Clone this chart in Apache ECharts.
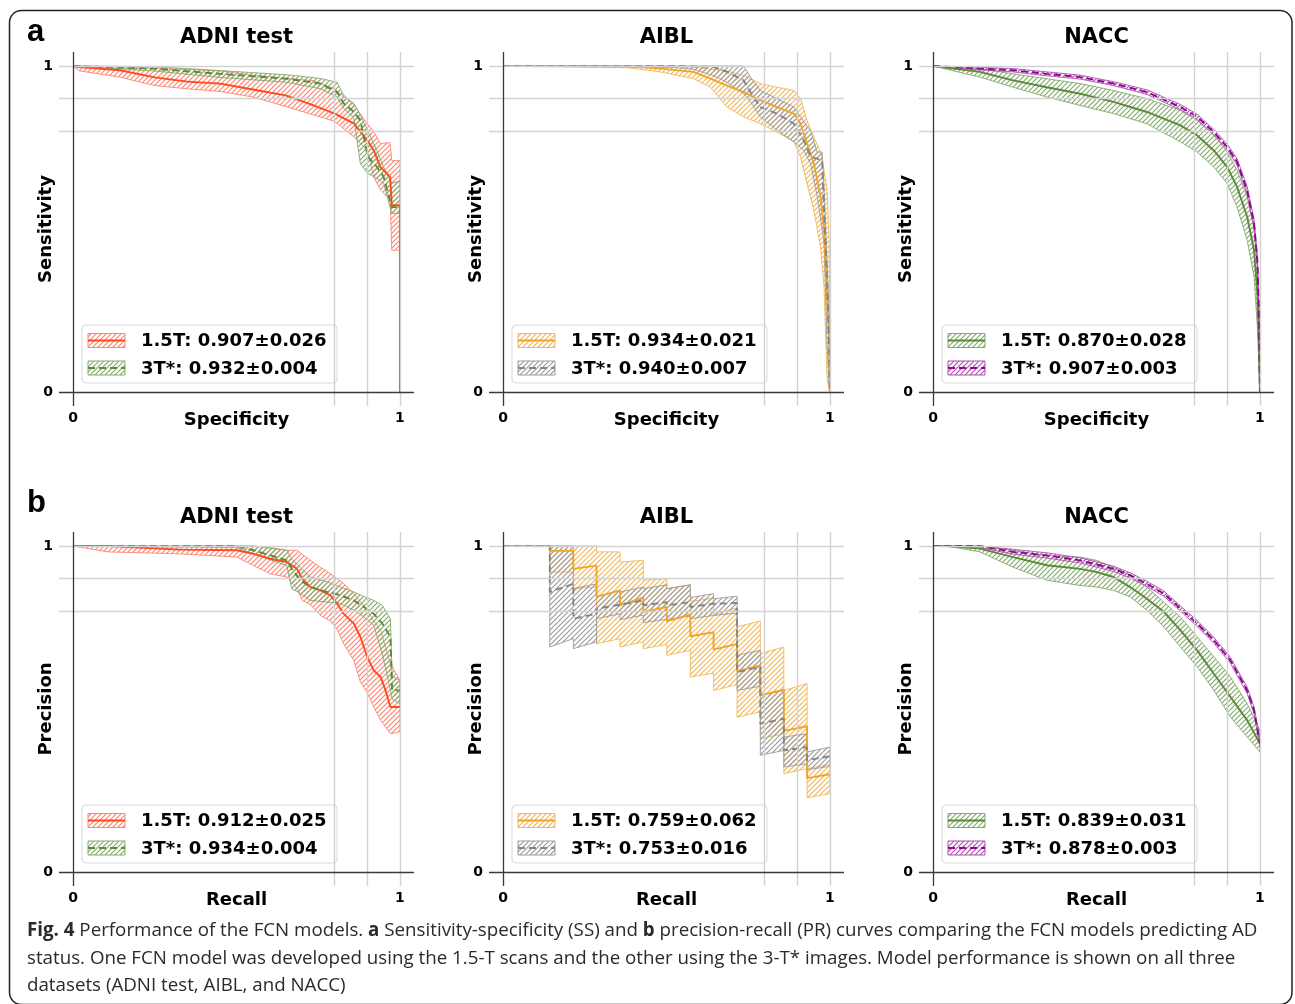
<!DOCTYPE html>
<html>
<head>
<meta charset="utf-8">
<title>FCN models - SS and PR curves</title>
<script src="https://cdn.jsdelivr.net/npm/echarts@6.0.0/dist/echarts.min.js"></script>
<style>
  html, body { margin: 0; padding: 0; background: #fff; }
  #chart { width: 1295px; height: 1004px; }
</style>
</head>
<body>
<div id="chart"></div>
<script>
// every point is [x, y, lower bound, upper bound]

// a: sensitivity vs specificity
var adniSS15 = [[0,1,1,1],[0.02,0.997,0.985,1],[0.143,0.987,0.966,0.997],[0.25,0.965,0.94,0.992],[0.35,0.952,0.93,0.99],
  [0.45,0.946,0.922,0.985],[0.55,0.928,0.905,0.972],[0.65,0.91,0.876,0.962],[0.736,0.879,0.85,0.955],[0.8,0.854,0.83,0.93],
  [0.86,0.823,0.782,0.88],[0.9,0.772,0.741,0.823],[0.92,0.741,0.66,0.8],[0.94,0.69,0.62,0.762],[0.97,0.66,0.59,0.765],
  [0.975,0.573,0.435,0.71],[1,0.573,0.435,0.71],[1,0,0,0]];
var adniSS3 = [[0,1,1,1],[0.245,0.992,0.985,0.998],[0.45,0.976,0.965,0.986],[0.655,0.961,0.95,0.973],[0.757,0.946,0.93,0.962],
  [0.808,0.92,0.905,0.95],[0.828,0.885,0.87,0.91],[0.859,0.859,0.84,0.885],[0.879,0.833,0.7,0.85],[0.902,0.721,0.67,0.8],
  [0.93,0.69,0.655,0.74],[0.95,0.66,0.64,0.69],[0.975,0.567,0.548,0.64],[1,0.567,0.548,0.648],[1,0,0,0]];
var aiblSS15 = [[0,1,1,1],[0.38,1,0.995,1],[0.481,0.992,0.982,1],[0.583,0.982,0.961,0.997],[0.634,0.961,0.935,0.99],
  [0.685,0.94,0.874,0.985],[0.736,0.92,0.844,0.971],[0.787,0.895,0.823,0.946],[0.838,0.874,0.797,0.935],[0.89,0.854,0.767,0.925],
  [0.91,0.823,0.721,0.9],[0.93,0.762,0.639,0.833],[0.951,0.7,0.557,0.782],[0.971,0.6,0.445,0.736],[0.982,0.5,0.322,0.68],
  [0.991,0.302,0.046,0.624],[0.998,0.15,0,0.455],[1,0,0,0]];
var aiblSS3 = [[0,1,1,1],[0.532,1,0.995,1],[0.583,0.999,0.99,1],[0.644,0.997,0.97,1],[0.685,0.982,0.95,1],
  [0.736,0.956,0.915,1],[0.757,0.92,0.89,0.966],[0.787,0.874,0.844,0.925],[0.838,0.854,0.803,0.9],[0.89,0.823,0.767,0.874],
  [0.92,0.772,0.741,0.83],[0.941,0.721,0.7,0.8],[0.961,0.716,0.6,0.736],[0.976,0.711,0.5,0.736],[0.982,0.557,0.455,0.629],
  [0.991,0.353,0.148,0.404],[0.997,0.148,0.03,0.25],[1,0,0,0]];
var naccSS15 = [[0,1,1,1],[0.143,0.982,0.966,0.992],[0.245,0.956,0.935,0.976],[0.348,0.935,0.905,0.961],[0.45,0.915,0.879,0.946],
  [0.552,0.89,0.854,0.925],[0.654,0.859,0.823,0.9],[0.757,0.818,0.767,0.864],[0.808,0.787,0.736,0.833],[0.859,0.741,0.69,0.787],
  [0.9,0.69,0.639,0.736],[0.93,0.629,0.567,0.68],[0.961,0.537,0.465,0.598],[0.982,0.435,0.353,0.506],[0.992,0.302,0.2,0.394],
  [0.997,0.148,0.08,0.25],[1,0,0,0]];
var naccSS3 = [[0,1,1,1],[0.143,0.992,0.988,0.996],[0.245,0.987,0.982,0.992],[0.348,0.976,0.97,0.982],[0.45,0.966,0.96,0.972],
  [0.552,0.946,0.94,0.952],[0.654,0.92,0.913,0.927],[0.757,0.874,0.866,0.882],[0.808,0.844,0.836,0.852],[0.859,0.797,0.789,0.805],
  [0.9,0.751,0.742,0.76],[0.93,0.706,0.696,0.716],[0.961,0.618,0.606,0.63],[0.982,0.516,0.5,0.53],[0.992,0.404,0.385,0.42],
  [0.997,0.25,0.23,0.27],[1,0,0,0]];

// b: precision vs recall
var adniPR15 = [[0,1,1,1],[0.107,1,0.982,1],[0.327,0.989,0.976,1],[0.501,0.987,0.966,1],[0.552,0.976,0.94,1],
  [0.603,0.961,0.915,0.995],[0.654,0.951,0.905,0.987],[0.685,0.93,0.87,0.987],[0.701,0.9,0.833,0.975],[0.726,0.874,0.82,0.956],
  [0.757,0.864,0.787,0.935],[0.787,0.849,0.77,0.915],[0.808,0.823,0.745,0.9],[0.828,0.792,0.7,0.885],[0.859,0.762,0.649,0.854],
  [0.879,0.721,0.583,0.83],[0.9,0.66,0.55,0.803],[0.92,0.618,0.506,0.77],[0.941,0.598,0.465,0.741],[0.956,0.557,0.445,0.69],
  [0.971,0.506,0.424,0.639],[1,0.506,0.43,0.588]];
var adniPR3 = [[0,1,1,1],[0.5,1,0.995,1],[0.552,0.987,0.976,1],[0.654,0.956,0.94,0.987],[0.669,0.93,0.869,0.96],
  [0.695,0.895,0.855,0.935],[0.726,0.874,0.833,0.905],[0.777,0.859,0.828,0.89],[0.818,0.849,0.823,0.874],[0.859,0.833,0.803,0.859],
  [0.89,0.813,0.782,0.845],[0.92,0.792,0.756,0.833],[0.946,0.762,0.669,0.818],[0.971,0.721,0.557,0.776],[0.976,0.557,0.53,0.6],
  [1,0.557,0.516,0.588]];
var aiblPR15 = [[0,1,1,1],[0.143,1,1,1],
  [0.143,0.985,0.92,1],[0.215,0.985,0.92,1],
  [0.215,0.93,0.869,1],[0.286,0.94,0.874,1],
  [0.286,0.844,0.7,0.982],[0.358,0.864,0.716,0.982],
  [0.358,0.818,0.69,0.951],[0.429,0.842,0.706,0.956],
  [0.429,0.798,0.685,0.895],[0.501,0.813,0.698,0.9],
  [0.501,0.769,0.665,0.869],[0.573,0.79,0.68,0.881],
  [0.573,0.723,0.598,0.83],[0.644,0.736,0.61,0.84],
  [0.644,0.682,0.557,0.79],[0.716,0.7,0.575,0.81],
  [0.716,0.616,0.475,0.752],[0.787,0.634,0.491,0.77],
  [0.787,0.542,0.409,0.67],[0.859,0.559,0.424,0.69],
  [0.859,0.433,0.302,0.557],[0.93,0.447,0.317,0.578],
  [0.93,0.288,0.228,0.317],[1,0.3,0.24,0.33]];
var aiblPR3 = [[0,1,1,1],[0.143,1,1,1],
  [0.143,0.859,0.69,1],[0.215,0.884,0.716,1],
  [0.215,0.777,0.685,0.869],[0.286,0.792,0.706,0.884],
  [0.286,0.808,0.777,0.844],[0.358,0.82,0.792,0.864],
  [0.358,0.818,0.774,0.859],[0.429,0.833,0.788,0.874],
  [0.429,0.818,0.765,0.869],[0.501,0.828,0.775,0.881],
  [0.501,0.818,0.775,0.869],[0.573,0.828,0.785,0.881],
  [0.573,0.813,0.777,0.842],[0.644,0.823,0.787,0.854],
  [0.644,0.818,0.787,0.838],[0.716,0.825,0.794,0.846],
  [0.716,0.613,0.557,0.665],[0.787,0.629,0.57,0.68],
  [0.787,0.455,0.358,0.542],[0.859,0.47,0.373,0.557],
  [0.859,0.373,0.322,0.414],[0.93,0.383,0.332,0.424],
  [0.93,0.343,0.314,0.368],[1,0.355,0.324,0.383]];
var naccPR15 = [[0,1,1,1],[0.041,1,1,1],[0.143,0.992,0.982,1],[0.245,0.966,0.935,0.987],[0.348,0.941,0.895,0.971],
  [0.45,0.93,0.879,0.966],[0.501,0.92,0.874,0.956],[0.552,0.905,0.864,0.935],[0.603,0.874,0.844,0.91],[0.654,0.838,0.803,0.874],
  [0.706,0.798,0.752,0.828],[0.757,0.741,0.69,0.782],[0.808,0.68,0.629,0.721],[0.859,0.608,0.557,0.66],[0.91,0.537,0.475,0.598],
  [0.961,0.465,0.414,0.516],[1,0.394,0.368,0.435]];
var naccPR3 = [[0,1,1,1],[0.143,1,0.995,1],[0.245,0.982,0.975,0.99],[0.348,0.971,0.963,0.979],[0.45,0.956,0.948,0.964],
  [0.552,0.93,0.922,0.938],[0.603,0.91,0.902,0.918],[0.654,0.884,0.876,0.892],[0.706,0.854,0.846,0.862],[0.757,0.808,0.8,0.816],
  [0.808,0.762,0.753,0.771],[0.859,0.711,0.702,0.72],[0.91,0.649,0.64,0.658],[0.961,0.557,0.547,0.567],[0.982,0.496,0.485,0.507],
  [1,0.394,0.383,0.405]];

var titles = ['ADNI test', 'AIBL', 'NACC'];
var tickValues = [0, 1];
var gridValues = [0.8, 0.9, 1];
var legendA = [['1.5T: 0.907\u00b10.026', '3T*: 0.932\u00b10.004'], ['1.5T: 0.934\u00b10.021', '3T*: 0.940\u00b10.007'], ['1.5T: 0.870\u00b10.028', '3T*: 0.907\u00b10.003']];
var legendB = [['1.5T: 0.912\u00b10.025', '3T*: 0.934\u00b10.004'], ['1.5T: 0.759\u00b10.062', '3T*: 0.753\u00b10.016'], ['1.5T: 0.839\u00b10.031', '3T*: 0.878\u00b10.003']];

var RED = { line: '#ff4a1c', hatch: '#ff8573' };
var GREEN = { line: '#5b8a38', hatch: '#86aa6e' };
var ORANGE = { line: '#f0a52a', hatch: '#f2b85a' };
var GREY = { line: '#858585', hatch: '#9c9c9c' };
var PURPLE = { line: '#8b0a8b', hatch: '#b050b0' };

var panels = [
  { row: 0, col: 0, xName: 'Specificity', yName: 'Sensitivity', curves: [[adniSS15, RED, false], [adniSS3, GREEN, true]], legend: legendA[0] },
  { row: 0, col: 1, xName: 'Specificity', yName: 'Sensitivity', curves: [[aiblSS15, ORANGE, false], [aiblSS3, GREY, true]], legend: legendA[1] },
  { row: 0, col: 2, xName: 'Specificity', yName: 'Sensitivity', curves: [[naccSS15, GREEN, false], [naccSS3, PURPLE, true]], legend: legendA[2] },
  { row: 1, col: 0, xName: 'Recall', yName: 'Precision', curves: [[adniPR15, RED, false], [adniPR3, GREEN, true]], legend: legendB[0] },
  { row: 1, col: 1, xName: 'Recall', yName: 'Precision', curves: [[aiblPR15, ORANGE, false], [aiblPR3, GREY, true]], legend: legendB[1] },
  { row: 1, col: 2, xName: 'Recall', yName: 'Precision', curves: [[naccPR15, GREEN, false], [naccPR3, PURPLE, true]], legend: legendB[2] }
];

// layout
var colLeft = [59, 489, 919], rowTop = [52, 532];
var gridW = 355, gridH = 354, pad = 14;
var BOLD = '"DejaVu Sans", sans-serif';
var DASH = [7, 4];

var patterns = {};
function hatch(color) {
  if (patterns[color]) return patterns[color];
  var c = document.createElement('canvas');
  c.width = 5; c.height = 5;
  var ctx = c.getContext('2d');
  ctx.strokeStyle = color;
  ctx.lineWidth = 1.2;
  ctx.beginPath();
  ctx.moveTo(0, 5); ctx.lineTo(5, 0);
  ctx.moveTo(-1, 1); ctx.lineTo(1, -1);
  ctx.moveTo(4, 6); ctx.lineTo(6, 4);
  ctx.stroke();
  patterns[color] = { image: c, repeat: 'repeat' };
  return patterns[color];
}

var grids = [], xAxes = [], yAxes = [], series = [], graphics = [];

panels.forEach(function (p, i) {
  var left = colLeft[p.col], top = rowTop[p.row];
  grids.push({ left: left, top: top, width: gridW, height: gridH });
  xAxes.push({
    gridIndex: i, type: 'value', min: -0.043, max: 1.043,
    axisLine: { show: false, onZero: false }, axisTick: { show: false }, splitLine: { show: false },
    axisLabel: { customValues: tickValues, margin: 5, color: '#000', fontWeight: 'bold', fontSize: 14, fontFamily: BOLD },
    name: p.xName, nameLocation: 'middle', nameGap: 5, nameMoveOverlap: false,
    nameTextStyle: { color: '#000', fontWeight: 'bold', fontSize: 18, fontFamily: BOLD }
  });
  yAxes.push({
    gridIndex: i, type: 'value', min: -0.043, max: 1.043,
    axisLine: { show: false, onZero: false }, axisTick: { show: false }, splitLine: { show: false },
    axisLabel: { customValues: tickValues, margin: 6, color: '#000', fontWeight: 'bold', fontSize: 14, fontFamily: BOLD },
    name: p.yName, nameLocation: 'middle', nameGap: 4, nameMoveOverlap: false,
    nameTextStyle: { color: '#000', fontWeight: 'bold', fontSize: 18, fontFamily: BOLD }
  });

  // light reference lines at 0.8, 0.9 and 1
  series.push({
    type: 'line', xAxisIndex: i, yAxisIndex: i, data: [[0, 0]], symbol: 'none',
    lineStyle: { width: 0 }, silent: true, z: 1,
    markLine: {
      silent: true, symbol: 'none', label: { show: false },
      lineStyle: { color: '#d2d2d2', width: 1.4, type: 'solid' },
      data: gridValues.map(function (v) { return { yAxis: v }; })
        .concat(gridValues.map(function (v) { return { xAxis: v }; }))
    }
  });
  // axis lines through zero
  series.push({
    type: 'line', xAxisIndex: i, yAxisIndex: i, data: [[0, 0]], symbol: 'none',
    lineStyle: { width: 0 }, silent: true, z: 1,
    markLine: {
      silent: true, symbol: 'none', label: { show: false },
      lineStyle: { color: '#3a3a3a', width: 1.3, type: 'solid' },
      data: [{ yAxis: 0 }, { xAxis: 0 }]
    }
  });

  // hatched confidence bands
  p.curves.forEach(function (c) {
    var pts = c[0], col = c[1];
    series.push({
      type: 'custom', xAxisIndex: i, yAxisIndex: i, data: [[0, 0]], silent: true, z: 2,
      renderItem: function (params, api) {
        var up = pts.map(function (d) { return api.coord([d[0], d[3]]); });
        var lo = pts.map(function (d) { return api.coord([d[0], d[2]]); }).reverse();
        return {
          type: 'polygon', shape: { points: up.concat(lo) },
          style: { fill: hatch(col.hatch), stroke: col.hatch, lineWidth: 0.9 }
        };
      }
    });
  });

  // mean curves
  p.curves.forEach(function (c) {
    series.push({
      type: 'line', xAxisIndex: i, yAxisIndex: i, symbol: 'none', silent: true, z: 3,
      data: c[0].map(function (d) { return [d[0], d[1]]; }),
      lineStyle: { color: c[1].line, width: 1.9, type: c[2] ? DASH : 'solid' }
    });
  });

  // title
  graphics.push({
    type: 'text', x: left + gridW / 2, y: top - 14,
    style: { text: titles[p.col], font: 'bold 21px ' + BOLD, fill: '#000', align: 'center', verticalAlign: 'middle' }
  });

  // legend box
  var bx = left + pad + 9, by = top + gridH - pad - 67;
  var kids = [{
    type: 'rect', shape: { x: bx, y: by, width: 255, height: 58, r: 4 },
    style: { fill: 'rgba(255,255,255,0.85)', stroke: '#d9d9d9', lineWidth: 1 }
  }];
  p.curves.forEach(function (c, k) {
    var ry = by + 15.5 + k * 27.5;
    kids.push({
      type: 'rect', shape: { x: bx + 6, y: ry - 7, width: 37, height: 14 },
      style: { fill: hatch(c[1].hatch), stroke: c[1].hatch, lineWidth: 1 }
    });
    kids.push({
      type: 'line', shape: { x1: bx + 6, y1: ry, x2: bx + 43, y2: ry },
      style: { stroke: c[1].line, lineWidth: 2, lineDash: c[2] ? DASH : null }
    });
    kids.push({
      type: 'text', x: bx + 59, y: ry + 1,
      style: { text: p.legend[k], font: 'bold 18px ' + BOLD, fill: '#000', verticalAlign: 'middle' }
    });
  });
  graphics.push({ type: 'group', z: 10, children: kids });
});

// panel letters
graphics.push({ type: 'text', x: 27, y: 48, style: { text: 'a', font: 'bold 31px "Liberation Sans", Arial, sans-serif', fill: '#000', verticalAlign: 'bottom' } });
graphics.push({ type: 'text', x: 27, y: 519, style: { text: 'b', font: 'bold 31px "Liberation Sans", Arial, sans-serif', fill: '#000', verticalAlign: 'bottom' } });

// caption
var caption = [
  '{b|Fig. 4} Performance of the FCN models. {b|a} Sensitivity-specificity (SS) and {b|b} precision-recall (PR) curves comparing the FCN models predicting AD',
  'status. One FCN model was developed using the 1.5-T scans and the other using the 3-T* images. Model performance is shown on all three',
  'datasets (ADNI test, AIBL, and NACC)'
];
caption.forEach(function (t, k) {
  graphics.push({
    type: 'text', x: 27, y: 931 + k * 27.5, scaleX: 0.986,
    style: {
      text: t, font: '19px "Open Sans", sans-serif', fill: '#2a2a2a', verticalAlign: 'middle',
      rich: { b: { font: 'bold 19px "Open Sans", sans-serif', fill: '#2a2a2a' } }
    }
  });
});

// frame
graphics.push({
  type: 'rect', z: 20, shape: { x: 9.5, y: 10.5, width: 1282.5, height: 994, r: 12 },
  style: { fill: 'none', stroke: '#222', lineWidth: 1.5 }
});

var chart = echarts.init(document.getElementById('chart'), null, { renderer: 'canvas' });
chart.setOption({
  animation: false,
  backgroundColor: '#fff',
  grid: grids,
  xAxis: xAxes,
  yAxis: yAxes,
  series: series,
  graphic: graphics
});
</script>
</body>
</html>
